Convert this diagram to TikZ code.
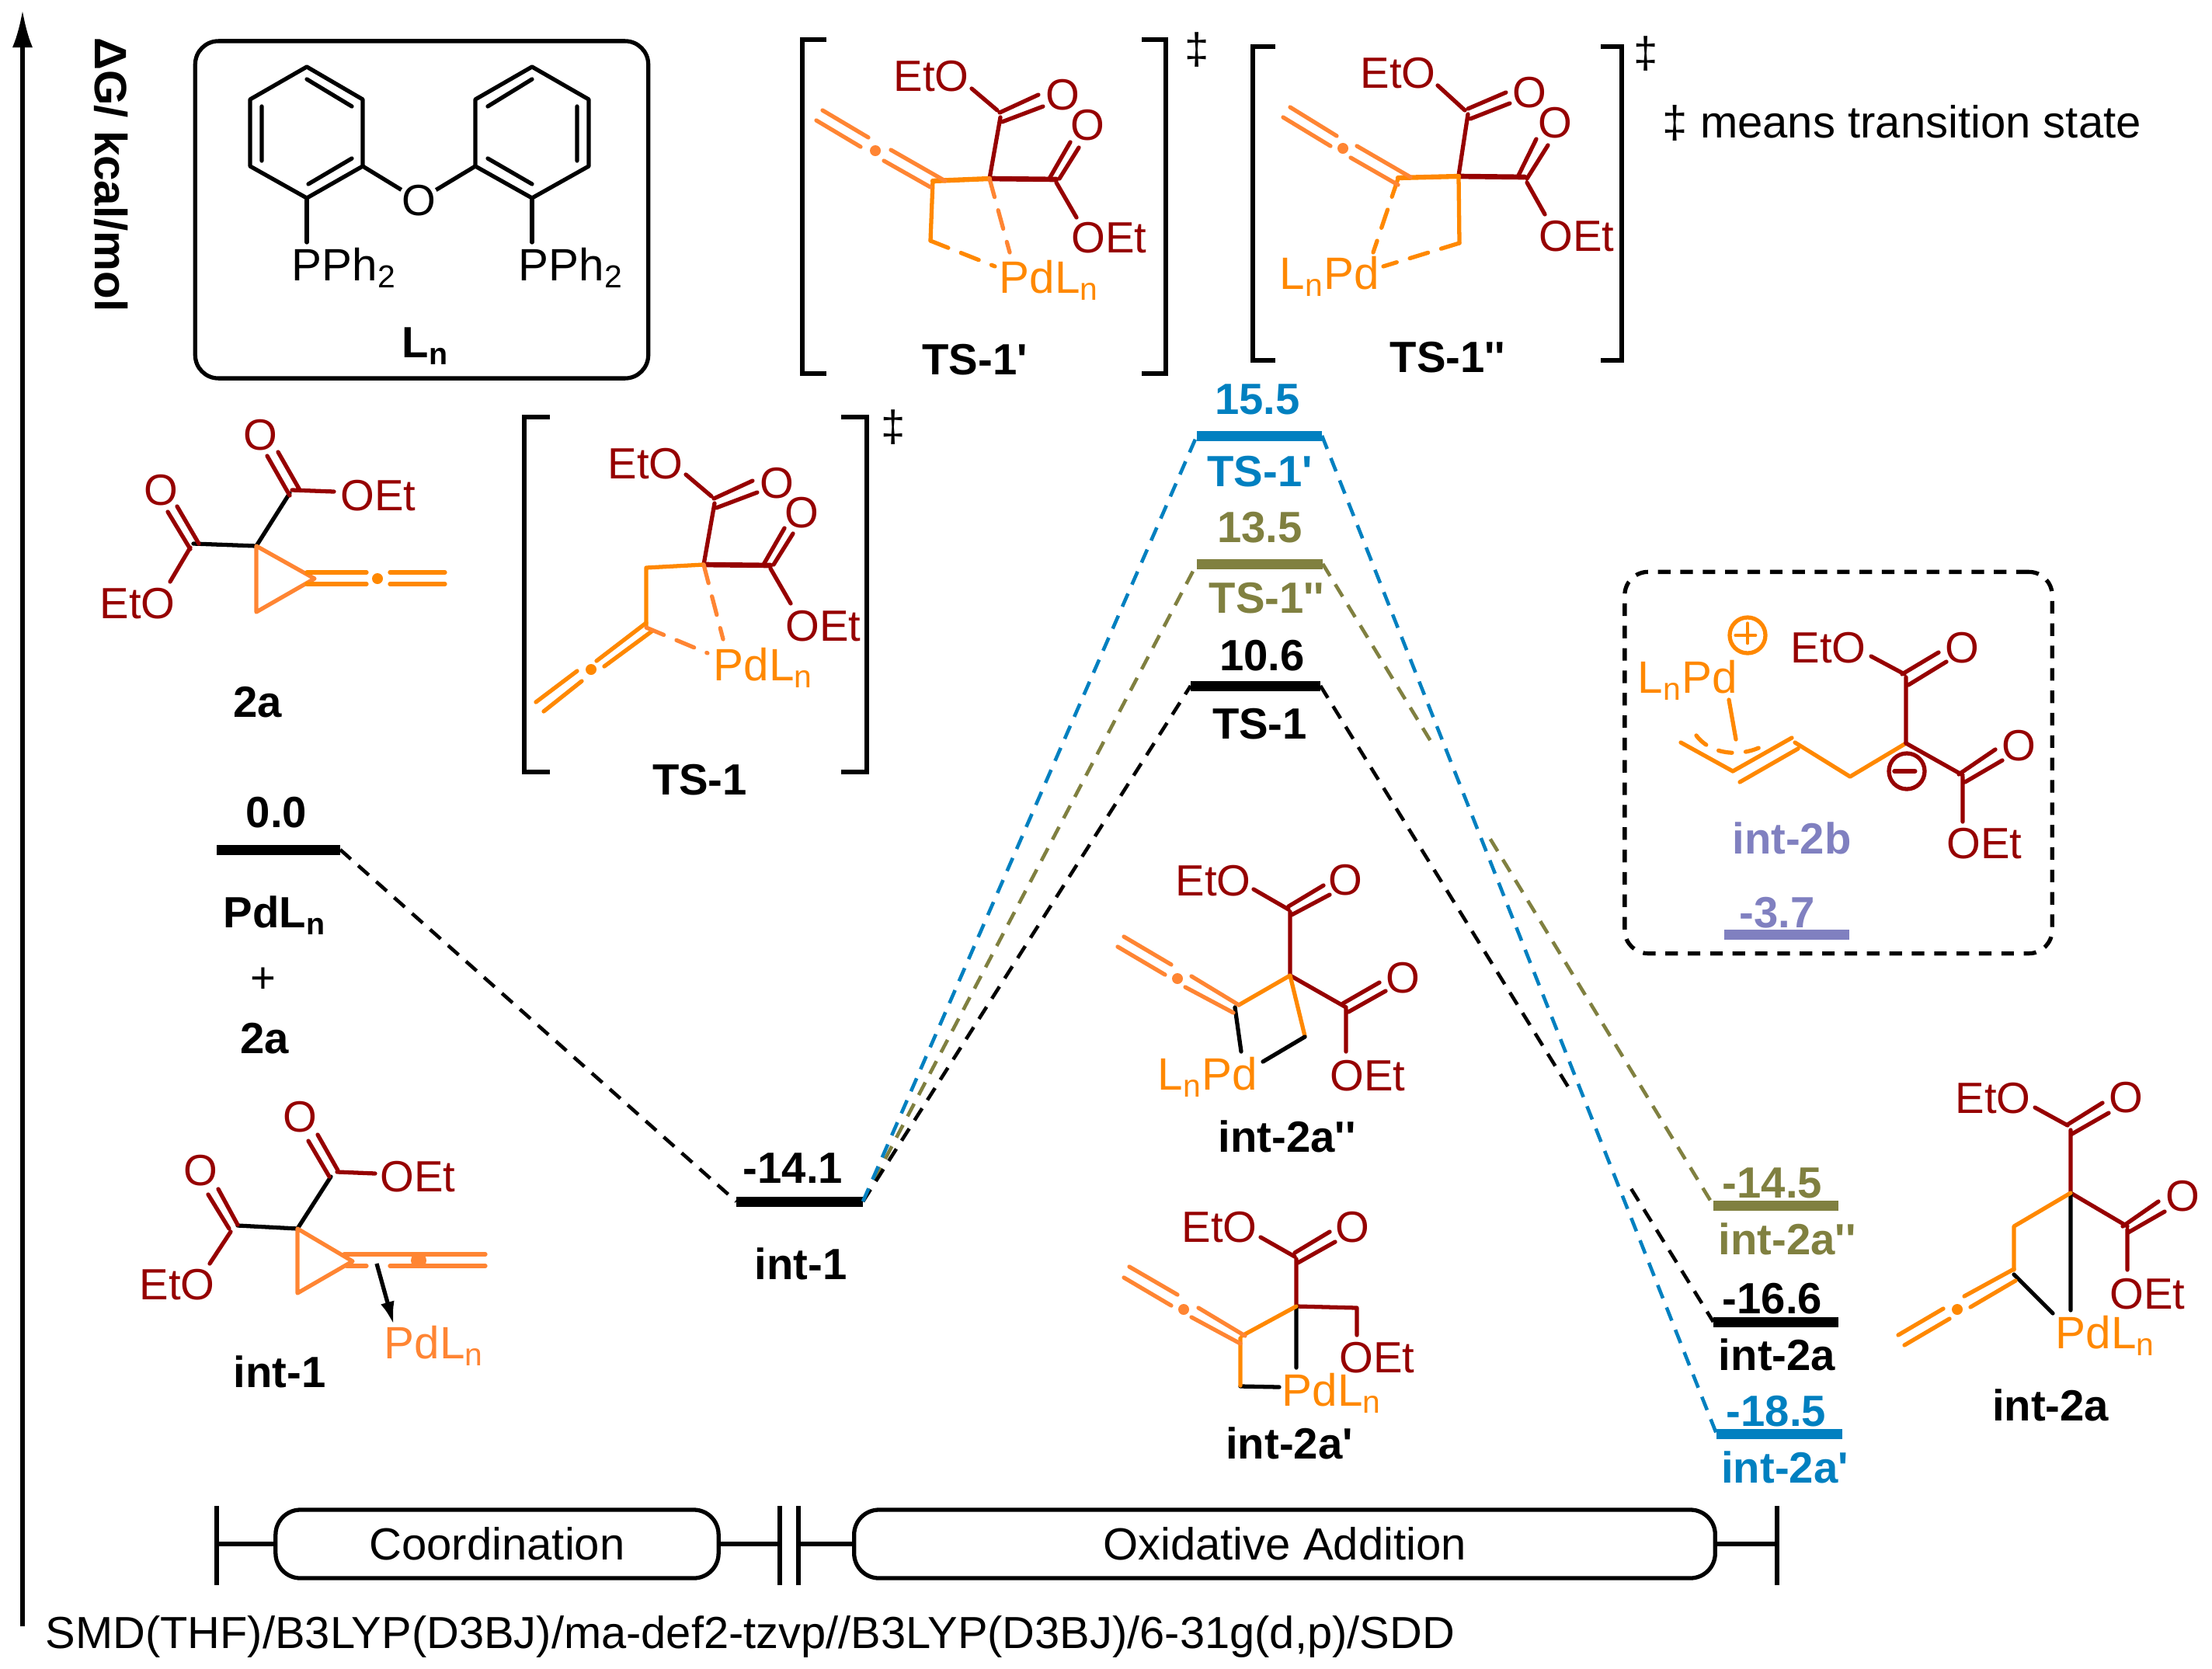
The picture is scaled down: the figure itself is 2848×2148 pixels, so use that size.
\documentclass[tikz,border=0pt]{standalone}
\usepackage{fontspec}
\setmainfont{Liberation Sans}[Ligatures=TeXOff]
\usetikzlibrary{arrows,arrows.meta,calc,positioning}
\definecolor{esterred}{RGB}{150,0,0}
\definecolor{pdorange}{RGB}{255,136,0}
\definecolor{alleneorange}{RGB}{255,133,51}
\definecolor{tsblue}{RGB}{0,128,192}
\definecolor{tsolive}{RGB}{128,128,64}
\definecolor{lavender}{RGB}{128,128,192}
\newcommand{\Ln}{L\textsubscript{n}}
\tikzstyle{bond} = [line width=1.5pt, line cap=round, line join=round]
\tikzstyle{rbond} = [bond, esterred]
\tikzstyle{obond} = [bond, pdorange]
\tikzstyle{abond} = [bond, alleneorange]
\tikzstyle{kbond} = [bond, black]
\tikzstyle{atom} = [inner sep=0pt, text=esterred, font=\fontsize{16}{18}\selectfont]
\tikzstyle{pd} = [inner sep=0pt, anchor=base west, text=pdorange, font=\fontsize{16.6}{18}\selectfont]
\tikzstyle{lbl} = [inner sep=0pt, font=\bfseries\fontsize{16}{18}\selectfont]
\tikzstyle{level} = [rectangle, inner sep=0pt, outer sep=0pt, minimum height=0.13cm]
\tikzstyle{conn} = [line width=1.3pt, dash pattern=on 5.2pt off 3.6pt]
\tikzstyle{stage} = [
  rectangle, draw, rounded corners=0.32cm, line width=1.5pt, minimum height=0.88cm,
  inner sep=0pt, font=\fontsize{16.5}{18}\selectfont
]
\tikzstyle{bracket} = [line width=1.6pt]
\begin{document}
\begin{tikzpicture}[x=0.01cm, y=-0.01cm]
  \useasboundingbox (0,0) rectangle (2848,2148);

  % axis
  \coordinate (axisbot) at (29,2094);
  \coordinate (axistop) at (29,13);
  \draw[line width=1.5pt, -{Latex[length=0.48cm,width=0.26cm]}] (axisbot) -- (axistop);
  \node[lbl, rotate=-90, font=\bfseries\fontsize{16.6}{18}\selectfont] (dg) at (143,225) {ΔG/ kcal/mol};

  % ligand
  \node[rectangle, draw, rounded corners=0.3cm, line width=1.5pt, minimum width=5.83cm, minimum height=4.34cm] (ligand) at (543,270) {};
  \draw[kbond] (395,86) -- (467,128) -- (467,214) -- (395,255) -- (322,214) -- (322,128) -- cycle;
  \draw[kbond] (685,86) -- (758,128) -- (758,214) -- (685,255) -- (612,214) -- (612,128) -- cycle;
  \draw[kbond] (395,102) -- (453,137) (337,137) -- (337,207) (397,237) -- (453,204);
  \draw[kbond] (628,137) -- (685,102) (743,137) -- (743,207) (628,204) -- (685,237);
  \node[atom, text=black] (oxy) at (539,258) {O};
  \draw[kbond] (467,214) -- (oxy) (612,214) -- (oxy);
  \draw[kbond] (395,255) -- (395,312) (685,255) -- (685,312);
  \fill[white] (oxy) circle [radius=0.26cm];
  \node[atom, text=black] (oxy) at (539,258) {O};
  \node[atom, anchor=base west, text=black, font=\fontsize{16.6}{18}\selectfont] (pleft) at (375,361) {PPh\textsubscript{2}};
  \node[atom, anchor=base west, text=black, font=\fontsize{16.6}{18}\selectfont] (pright) at (667,361) {PPh\textsubscript{2}};
  \node[lbl, anchor=base] (lnlabel) at (548,460) {\Ln};

  % 2a
  \draw[kbond] (249,700) -- (330,703) -- (373,635);
  \draw[abond] (330,703) -- (405,745) -- (330,788) -- cycle;
  \draw[rbond] (373,638) -- (344,587) (386,631) -- (358,582) (376,631) -- (430,633);
  \draw[rbond] (245,707) -- (216,659) (256,700) -- (228,652) (245,705) -- (219,749);
  \draw[obond] (395,737) -- (472,737) (395,752) -- (472,752) (502,737) -- (573,737) (502,752) -- (573,752);
  \fill[pdorange] (486,745) circle [radius=0.07cm];
  \node[atom] (oa) at (335,560) {O};
  \node[atom] (ob) at (207,631) {O};
  \node[atom] (oeta) at (487,638) {OEt};
  \node[atom] (etoa) at (177,777) {EtO};
  \node[lbl] (labela) at (332,904) {2a};

  % int-1 structure
  \draw[kbond] (306,1578) -- (383,1582) -- (426,1515);
  \draw[abond] (383,1582) -- (454,1624) -- (383,1665) -- cycle;
  \draw[rbond] (424,1515) -- (397,1469) (435,1507) -- (409,1461) (434,1509) -- (483,1511);
  \draw[rbond] (295,1582) -- (268,1538) (306,1577) -- (281,1531) (297,1586) -- (270,1627);
  \draw[abond] (443,1615) -- (625,1615) (446,1630) -- (472,1630) (502,1630) -- (625,1630);
  \fill[alleneorange] (539,1623) circle [radius=0.1cm];
  \node[atom] (oc) at (386,1438) {O};
  \node[atom] (od) at (258,1507) {O};
  \node[atom] (oetb) at (538,1515) {OEt};
  \node[atom] (etob) at (228,1654) {EtO};
  \node[pd, text=alleneorange] (pdb) at (494,1749) {Pd\Ln};
  \draw[line width=1.5pt, -{Latex[length=0.3cm,width=0.18cm]}] (485,1627) -- ([xshift=0.13cm] pdb.north west);
  \node[lbl] (labelb) at (360,1766) {int-1};

  % TS-1
  \draw[bracket] (708,537) -- (675,537) -- (675,994) -- (708,994);
  \draw[bracket] (1083,537) -- (1116,537) -- (1116,994) -- (1083,994);
  \node[atom, text=black] (dagc) at (1150,550) {‡};
  \draw[rbond] (883,611) -- (916,639) (919,642) -- (969,619) (922,654) -- (975,634) (920,648) -- (906,727);
  \draw[rbond, line width=1.9pt] (906,727) -- (992,728);
  \draw[rbond] (983,727) -- (1010,680) (996,727) -- (1021,687) (992,732) -- (1018,777);
  \draw[obond] (906,727) -- (832,731) -- (832,806);
  \draw[obond] (832,802) -- (768,851) (839,813) -- (778,858) (743,864) -- (690,904) (749,877) -- (700,916);
  \fill[pdorange] (761,862) circle [radius=0.07cm];
  \draw[abond, dash pattern=on 7pt off 5pt] (906,727) -- (931,823);
  \draw[abond, dash pattern=on 7pt off 5pt] (832,808) -- (911,841);
  \node[atom] (etoc) at (831,597) {EtO};
  \node[atom] (oe) at (1000,622) {O};
  \node[atom] (of) at (1032,660) {O};
  \node[atom] (oetc) at (1060,806) {OEt};
  \node[pd] (pdc) at (918,876) {Pd\Ln};
  \node[lbl] (labelc) at (901,1004) {TS-1};

  % TS-1'
  \draw[bracket] (1064,51) -- (1033,51) -- (1033,481) -- (1064,481);
  \draw[bracket] (1470,51) -- (1501,51) -- (1501,481) -- (1470,481);
  \node[atom, text=black] (dagd) at (1541,64) {‡};
  \draw[rbond] (1251,114) -- (1284,142) (1287,145) -- (1337,122) (1290,157) -- (1343,137) (1288,151) -- (1274,230);
  \draw[rbond, line width=1.9pt] (1274,230) -- (1360,231);
  \draw[rbond] (1351,230) -- (1378,183) (1364,230) -- (1389,190) (1360,235) -- (1386,280);
  \draw[obond, line width=1.8pt] (1274,230) -- (1201,233);
  \draw[obond] (1201,233) -- (1198,310);
  \draw[obond, dash pattern=on 7pt off 5pt] (1198,310) -- (1281,343);
  \draw[abond, dash pattern=on 7pt off 5pt] (1274,230) -- (1300,325);
  \draw[abond] (1217,233) -- (1147,193) (1198,241) -- (1138,207) (1118,177) -- (1059,142) (1108,189) -- (1051,155);
  \fill[alleneorange] (1127,194) circle [radius=0.07cm];
  \node[atom] (etod) at (1199,98) {EtO};
  \node[atom] (og) at (1368,122) {O};
  \node[atom] (oh) at (1400,161) {O};
  \node[atom] (oetd) at (1428,306) {OEt};
  \node[pd] (pdd) at (1286,377) {Pd\Ln};
  \node[lbl] (labeld) at (1255,463) {TS-1'};

  % TS-1''
  \draw[bracket] (1642,60) -- (1613,60) -- (1613,464) -- (1642,464);
  \draw[bracket] (2061,60) -- (2088,60) -- (2088,464) -- (2061,464);
  \node[atom, text=black] (dage) at (2119,69) {‡};
  \draw[rbond] (1851,110) -- (1886,142) (1890,140) -- (1939,119) (1893,153) -- (1944,133) (1890,147) -- (1878,226);
  \draw[rbond, line width=1.9pt] (1878,227) -- (1963,228);
  \draw[rbond] (1955,226) -- (1978,179) (1966,230) -- (1993,187) (1966,235) -- (1989,276);
  \draw[obond, line width=1.8pt] (1800,229) -- (1878,227);
  \draw[obond] (1878,227) -- (1879,313);
  \draw[obond, dash pattern=on 7pt off 5pt] (1879,313) -- (1781,343) (1800,230) -- (1768,325);
  \draw[abond] (1816,228) -- (1747,188) (1800,238) -- (1739,203) (1721,175) -- (1661,138) (1713,188) -- (1652,151);
  \fill[alleneorange] (1729,191) circle [radius=0.07cm];
  \node[atom] (etoe) at (1800,94) {EtO};
  \node[atom] (oi) at (1969,119) {O};
  \node[atom] (oj) at (2002,158) {O};
  \node[atom] (oete) at (2030,304) {OEt};
  \node[pd] (pde) at (1647,372) {\Ln Pd};
  \node[lbl] (labele) at (1864,460) {TS-1''};

  \node[inner sep=0pt, anchor=west, font=\fontsize{16.5}{18}\selectfont] (tsnote) at (2140,158) {‡ means transition state};

  % levels
  \node[level, fill=black, minimum width=1.59cm] (start) at (358.5,1094) {};
  \node[level, fill=black, minimum width=1.63cm] (int1) at (1029.5,1547) {};
  \node[level, fill=tsblue, minimum width=1.61cm] (tsp) at (1621.5,561) {};
  \node[level, fill=tsolive, minimum width=1.62cm] (tspp) at (1622,726) {};
  \node[level, fill=black, minimum width=1.67cm] (ts) at (1616.5,883) {};
  \node[level, fill=tsolive, minimum width=1.61cm] (int2app) at (2286.5,1552) {};
  \node[level, fill=black, minimum width=1.61cm] (int2a) at (2286.5,1702) {};
  \node[level, fill=tsblue, minimum width=1.62cm] (int2ap) at (2291,1846) {};
  \node[level, fill=lavender, minimum width=1.61cm] (int2b) at (2300.5,1203) {};

  \coordinate (gapkA) at ($(ts.east)!0.64!(int2a.west)$);
  \coordinate (gapkB) at ($(ts.east)!0.791!(int2a.west)$);
  \coordinate (gapoA) at ($(tspp.east)!0.286!(int2app.west)$);
  \coordinate (gapoB) at ($(tspp.east)!0.429!(int2app.west)$);

  \draw[conn] (start.east) -- (int1.west);
  \draw[conn, tsolive] (int1.east) -- (tspp.west);
  \draw[conn, tsolive] (tspp.east) -- (gapoA);
  \draw[conn, tsolive] (gapoB) -- (int2app.west);
  \draw[conn] (int1.east) -- (ts.west);
  \draw[conn] (ts.east) -- (gapkA);
  \draw[conn] (gapkB) -- (int2a.west);
  \draw[conn, tsblue] (int1.east) -- (tsp.west);
  \draw[conn, tsblue] (tsp.east) -- (int2ap.west);

  % level labels
  \node[lbl] (valstart) at (356,1046) {0.0};
  \node[lbl, anchor=base] (pdstart) at (354,1194) {Pd\Ln};
  \node[inner sep=0pt, font=\fontsize{16}{18}\selectfont] (plus) at (339,1262) {+};
  \node[lbl] (twoastart) at (341,1337) {2a};
  \node[lbl] (valint1) at (1021,1504) {-14.1};
  \node[lbl] (nameint1) at (1031,1627) {int-1};
  \node[lbl, text=tsblue] (valtsp) at (1619,514) {15.5};
  \node[lbl, text=tsblue] (nametsp) at (1622,607) {TS-1'};
  \node[lbl, text=tsolive] (valtspp) at (1622,679) {13.5};
  \node[lbl, text=tsolive] (nametspp) at (1631,770) {TS-1''};
  \node[lbl] (valts) at (1625,844) {10.6};
  \node[lbl] (namets) at (1622,932) {TS-1};
  \node[lbl, text=tsolive] (valapp) at (2282,1523) {-14.5};
  \node[lbl, text=tsolive] (nameapp) at (2301,1595) {int-2a''};
  \node[lbl] (vala) at (2282,1672) {-16.6};
  \node[lbl] (namea) at (2288,1744) {int-2a};
  \node[lbl, text=tsblue] (valap) at (2287,1817) {-18.5};
  \node[lbl, text=tsblue] (nameap) at (2298,1889) {int-2a'};

  % int-2a''
  \draw[rbond] (1614,1145) -- (1659,1171) (1659,1167) -- (1704,1140) (1663,1178) -- (1712,1152) (1661,1174) -- (1661,1256) -- (1733,1297);
  \draw[rbond] (1729,1292) -- (1776,1265) (1736,1303) -- (1784,1276) (1733,1299) -- (1733,1354);
  \draw[obond] (1595,1294) -- (1661,1256) -- (1680,1334);
  \draw[kbond] (1680,1335) -- (1626,1367) (1590,1297) -- (1598,1354);
  \draw[abond] (1595,1294) -- (1534,1257) (1588,1304) -- (1526,1271) (1508,1242) -- (1447,1206) (1500,1255) -- (1439,1219);
  \fill[alleneorange] (1516,1260) circle [radius=0.07cm];
  \node[atom] (etof) at (1562,1134) {EtO};
  \node[atom] (ok) at (1732,1133) {O};
  \node[atom] (ol) at (1806,1259) {O};
  \node[atom] (oetf) at (1761,1385) {OEt};
  \node[pd] (pdf) at (1490,1403) {\Ln Pd};
  \node[lbl] (labelf) at (1657,1463) {int-2a''};

  % int-2a'
  \draw[rbond] (1623,1593) -- (1667,1618) (1667,1613) -- (1712,1586) (1671,1626) -- (1719,1599) (1669,1621) -- (1669,1682) -- (1747,1684) -- (1747,1719);
  \draw[kbond] (1669,1682) -- (1669,1761) (1597,1785) -- (1647,1786);
  \draw[obond] (1669,1682) -- (1599,1720) (1597,1723) -- (1597,1784);
  \draw[abond] (1603,1720) -- (1543,1684) (1597,1730) -- (1534,1696) (1516,1667) -- (1454,1631) (1508,1681) -- (1447,1645);
  \fill[alleneorange] (1524,1686) circle [radius=0.07cm];
  \node[atom] (etog) at (1570,1580) {EtO};
  \node[atom] (om) at (1741,1580) {O};
  \node[atom] (oetg) at (1773,1748) {OEt};
  \node[pd] (pdg) at (1650,1810) {Pd\Ln};
  \node[lbl] (labelg) at (1660,1858) {int-2a'};

  % int-2a
  \draw[rbond] (2620,1426) -- (2662,1449) (2662,1448) -- (2707,1420) (2666,1461) -- (2715,1433) (2666,1455) -- (2666,1536) -- (2739,1579);
  \draw[rbond] (2733,1579) -- (2779,1547) (2740,1587) -- (2787,1560) (2739,1583) -- (2739,1635);
  \draw[kbond] (2666,1536) -- (2666,1687) (2593,1641) -- (2643,1691);
  \draw[obond] (2666,1536) -- (2593,1579) -- (2593,1635);
  \draw[obond] (2593,1634) -- (2529,1669) (2595,1649) -- (2537,1683) (2502,1685) -- (2444,1719) (2510,1698) -- (2452,1732);
  \fill[pdorange] (2520,1686) circle [radius=0.07cm];
  \node[atom] (etoh) at (2566,1414) {EtO};
  \node[atom] (on) at (2737,1413) {O};
  \node[atom] (oo) at (2810,1540) {O};
  \node[atom] (oeth) at (2765,1666) {OEt};
  \node[pd] (pdh) at (2646,1736) {Pd\Ln};
  \node[lbl] (labelh) at (2640,1809) {int-2a};

  % int-2b
  \node[rectangle, draw, rounded corners=0.3cm, line width=1.5pt, dash pattern=on 4.6pt off 3.6pt, minimum width=5.5cm, minimum height=4.91cm] (dashbox) at (2367,982) {};
  \draw[obond] (2226,901) -- (2235,952) (2164,956) -- (2231,993) (2231,993) -- (2307,950) (2240,1007) -- (2315,964) (2311,956) -- (2382,1000) -- (2454,957);
  \draw[obond, dash pattern=on 5pt off 5pt] (2184,947) .. controls (2205,975) and (2250,975) .. (2277,956);
  \draw[rbond] (2454,957) -- (2454,872) (2449,868) -- (2496,840) (2457,882) -- (2506,852) (2409,845) -- (2452,868);
  \draw[rbond] (2454,957) -- (2527,998) (2522,997) -- (2569,965) (2530,1007) -- (2578,979) (2527,1000) -- (2527,1058);
  \node[circle, draw=pdorange, line width=1.5pt, minimum size=0.46cm, inner sep=0pt] (plusb) at (2250,818) {};
  \draw[obond, line width=1.1pt] (plusb.north) ++(0,10) -- ++(0,26) (plusb.west) ++(10,0) -- ++(26,0);
  \node[circle, draw=esterred, line width=1.5pt, minimum size=0.46cm, inner sep=0pt] (minusb) at (2455,993) {};
  \draw[rbond, line width=1.8pt] (minusb.west) ++(10,0) -- ++(26,0);
  \node[pd] (pdi) at (2108,892) {\Ln Pd};
  \node[atom] (etoi) at (2354,834) {EtO};
  \node[atom] (op) at (2526,834) {O};
  \node[atom] (oq) at (2599,960) {O};
  \node[atom] (oeti) at (2555,1086) {OEt};
  \node[lbl, text=lavender] (labeli) at (2307,1079) {int-2b};
  \node[lbl, text=lavender] (vali) at (2288,1175) {-3.7};

  % stages
  \node[stage, minimum width=5.7cm] (coord) at (640,1988) {Coordination};
  \node[stage, minimum width=11.08cm] (oxadd) at (1654,1988) {Oxidative Addition};
  \coordinate (barA) at (279,1988);
  \coordinate (barB) at (1004,1988);
  \coordinate (barC) at (1028,1988);
  \coordinate (barD) at (2288,1988);
  \draw[bracket] (barA) ++(0,-49) -- ++(0,102);
  \draw[bracket] (barB) ++(0,-49) -- ++(0,102);
  \draw[bracket] (barC) ++(0,-49) -- ++(0,102);
  \draw[bracket] (barD) ++(0,-49) -- ++(0,102);
  \draw[bracket] (barA) -- (coord.west);
  \draw[bracket] (coord.east) -- (barB);
  \draw[bracket] (barC) -- (oxadd.west);
  \draw[bracket] (oxadd.east) -- (barD);

  \node[inner sep=0pt, anchor=west, font=\fontsize{16.45}{18}\selectfont] (method) at (58,2108) {SMD(THF)/B3LYP(D3BJ)/ma-def2-tzvp//B3LYP(D3BJ)/6-31g(d,p)/SDD};
\end{tikzpicture}
\end{document}
